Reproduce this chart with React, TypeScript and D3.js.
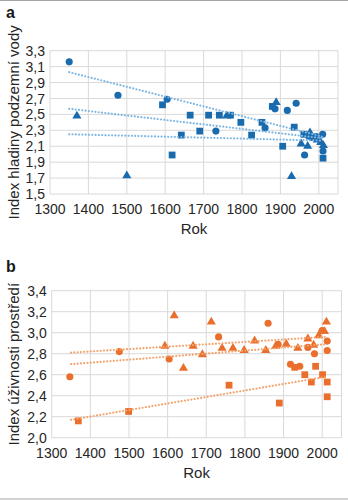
import React from "react";
import * as d3 from "d3";

// ---------- Panel a: Index hladiny podzemní vody ----------
const aCircles: [number, number][] = [
  [1350, 3.16], [1477, 2.74], [1605, 2.69], [1732, 2.29], [1860, 2.33],
  [1886, 2.57], [1918, 2.55], [1941, 2.64], [1963, 1.99], [1981, 2.21],
  [1993, 2.22], [2010, 2.25], [2011, 2.04],
];
const aSquares: [number, number][] = [
  [1593, 2.62], [1618, 1.99], [1642, 2.24], [1665, 2.49], [1690, 2.29],
  [1713, 2.49], [1741, 2.49], [1770, 2.49], [1797, 2.40], [1825, 2.24],
  [1852, 2.40], [1879, 2.60], [1906, 2.10], [1936, 2.34], [1961, 2.25],
  [1975, 2.23], [2011, 1.95],
];
const aTriangles: [number, number][] = [
  [1370, 2.49], [1500, 1.74], [1760, 2.49], [1889, 2.66], [1929, 1.73],
  [1954, 2.14], [1971, 2.11], [1977, 2.28], [1996, 2.19], [2005, 2.16],
  [2012, 2.12],
];
// trend lines: [startYear, startValue, endYear, endValue]
const aTrends: [number, number, number, number][] = [
  [1350, 3.03, 2010, 2.22],
  [1350, 2.57, 2010, 2.20],
  [1350, 2.25, 2010, 2.17],
];
const aYTicks = [1.5, 1.7, 1.9, 2.1, 2.3, 2.5, 2.7, 2.9, 3.1, 3.3];

// ---------- Panel b: Index úživnosti prostředí ----------
const bCircles: [number, number][] = [
  [1347, 2.58], [1475, 2.82], [1604, 2.75], [1732, 2.96], [1860, 3.09],
  [1886, 2.89], [1918, 2.70], [1942, 2.68], [1963, 2.86], [1980, 2.80],
  [2000, 3.02], [2013, 2.92], [2013, 2.83],
];
const bSquares: [number, number][] = [
  [1369, 2.16], [1499, 2.25], [1759, 2.50], [1889, 2.33], [1929, 2.67],
  [1955, 2.60], [1972, 2.53], [1983, 2.68], [2001, 2.60], [2013, 2.53],
  [2013, 2.39],
];
const bTriangles: [number, number][] = [
  [1593, 2.88], [1617, 3.17], [1641, 2.67], [1666, 2.88], [1690, 2.80],
  [1713, 3.11], [1741, 2.86], [1769, 2.86], [1798, 2.84], [1825, 2.93],
  [1854, 2.84], [1880, 2.88], [1907, 2.90], [1937, 2.86], [1963, 2.95],
  [1978, 2.89], [1991, 2.98], [2006, 3.02], [2011, 3.11],
];
const bTrends: [number, number, number, number][] = [
  [1350, 2.81, 2010, 2.96],
  [1350, 2.70, 2010, 2.89],
  [1350, 2.17, 2010, 2.58],
];
const bYTicks = [2.0, 2.2, 2.4, 2.6, 2.8, 3.0, 3.2, 3.4];

const xTicks = [1300, 1400, 1500, 1600, 1700, 1800, 1900, 2000];

const FONT = "'Liberation Sans', Arial, Helvetica, sans-serif";

type PanelProps = {
  letter: string;
  letterY: number;
  title: string;
  top: number;
  bottom: number;
  left: number;
  right: number;
  yDomain: [number, number];
  yTicks: number[];
  circles: [number, number][];
  squares: [number, number][];
  triangles: [number, number][];
  trends: [number, number, number, number][];
  color: string;
  trendColor: string;
};

function Panel(p: PanelProps) {
  const x = d3.scaleLinear().domain([1300, 2050]).range([p.left, p.right]);
  const y = d3.scaleLinear().domain(p.yDomain).range([p.bottom, p.top]);
  const fmt = (v: number) => d3.format(".1f")(v).replace(".", ",");
  const circ = d3.symbol().type(d3.symbolCircle).size(40)();
  const sq = d3.symbol().type(d3.symbolSquare).size(46)();
  const tri = d3.symbol().type(d3.symbolTriangle).size(36)();
  const line = d3.line<[number, number]>().x((d) => x(d[0])).y((d) => y(d[1]));
  const midY = (p.top + p.bottom) / 2;
  return (
    <g>
      <text x={6} y={p.letterY} fontSize={16} fontWeight="bold" fill="#1a1a1a" fontFamily={FONT}>
        {p.letter}
      </text>
      {/* grid */}
      {p.yTicks.map((t) => (
        <line key={"h" + t} x1={p.left} x2={p.right} y1={y(t)} y2={y(t)} stroke="#d9d9d9" strokeWidth={1} />
      ))}
      {[...xTicks, 2050].map((t) => (
        <line key={"v" + t} x1={x(t)} x2={x(t)} y1={p.top} y2={p.bottom} stroke="#d9d9d9" strokeWidth={1} />
      ))}
      {/* y tick labels */}
      {p.yTicks.map((t) => (
        <text key={"yl" + t} x={p.left - 5} y={y(t)} dy="0.36em" textAnchor="end" fontSize={14} fill="#262626" fontFamily={FONT}>
          {fmt(t)}
        </text>
      ))}
      {/* x tick labels */}
      {xTicks.map((t) => (
        <text key={"xl" + t} x={x(t)} y={p.bottom + 20} textAnchor="middle" fontSize={14} fill="#262626" fontFamily={FONT}>
          {t}
        </text>
      ))}
      <text x={(p.left + p.right) / 2} y={p.bottom + 40} textAnchor="middle" fontSize={15} fill="#262626" fontFamily={FONT}>
        Rok
      </text>
      <text
        transform={`translate(19,${midY}) rotate(-90)`}
        textAnchor="middle"
        fontSize={15}
        fill="#262626"
        fontFamily={FONT}
      >
        {p.title}
      </text>
      {/* markers */}
      {p.circles.map((d, i) => (
        <path key={"c" + i} d={circ!} transform={`translate(${x(d[0])},${y(d[1])})`} fill={p.color} />
      ))}
      {p.squares.map((d, i) => (
        <path key={"s" + i} d={sq!} transform={`translate(${x(d[0])},${y(d[1])})`} fill={p.color} />
      ))}
      {p.triangles.map((d, i) => (
        <path key={"t" + i} d={tri!} transform={`translate(${x(d[0])},${y(d[1]) + 0.8})`} fill={p.color} />
      ))}
      {/* trend lines */}
      {p.trends.map((t, i) => (
        <path
          key={"tr" + i}
          d={line([[t[0], t[1]], [t[2], t[3]]])!}
          stroke={p.trendColor}
          strokeWidth={2.2}
          strokeLinecap="round"
          strokeDasharray="0 3.3"
          fill="none"
        />
      ))}
    </g>
  );
}

export default function App() {
  return (
    <svg
      width={348}
      height={500}
      viewBox="0 0 348 500"
      style={{ position: "absolute", left: 0, top: 0, background: "#fff" }}
    >
      <rect x={0} y={0} width={348} height={500} fill="#fff" />
      <line x1={0} x2={348} y1={0.5} y2={0.5} stroke="#a6a6a6" strokeWidth={1} />
      <line x1={0} x2={348} y1={499} y2={499} stroke="#a6a6a6" strokeWidth={1} />
      <Panel
        letter="a"
        letterY={18}
        title="Index hladiny podzemní vody"
        top={50.7}
        bottom={194}
        left={50}
        right={338}
        yDomain={[1.5, 3.3]}
        yTicks={aYTicks}
        circles={aCircles}
        squares={aSquares}
        triangles={aTriangles}
        trends={aTrends}
        color="#1a6aae"
        trendColor="#7db6e2"
      />
      <Panel
        letter="b"
        letterY={272}
        title="Index úživnosti prostředí"
        top={290.7}
        bottom={437.7}
        left={51.7}
        right={341.5}
        yDomain={[2.0, 3.4]}
        yTicks={bYTicks}
        circles={bCircles}
        squares={bSquares}
        triangles={bTriangles}
        trends={bTrends}
        color="#ea6e2c"
        trendColor="#f4a26a"
      />
    </svg>
  );
}
